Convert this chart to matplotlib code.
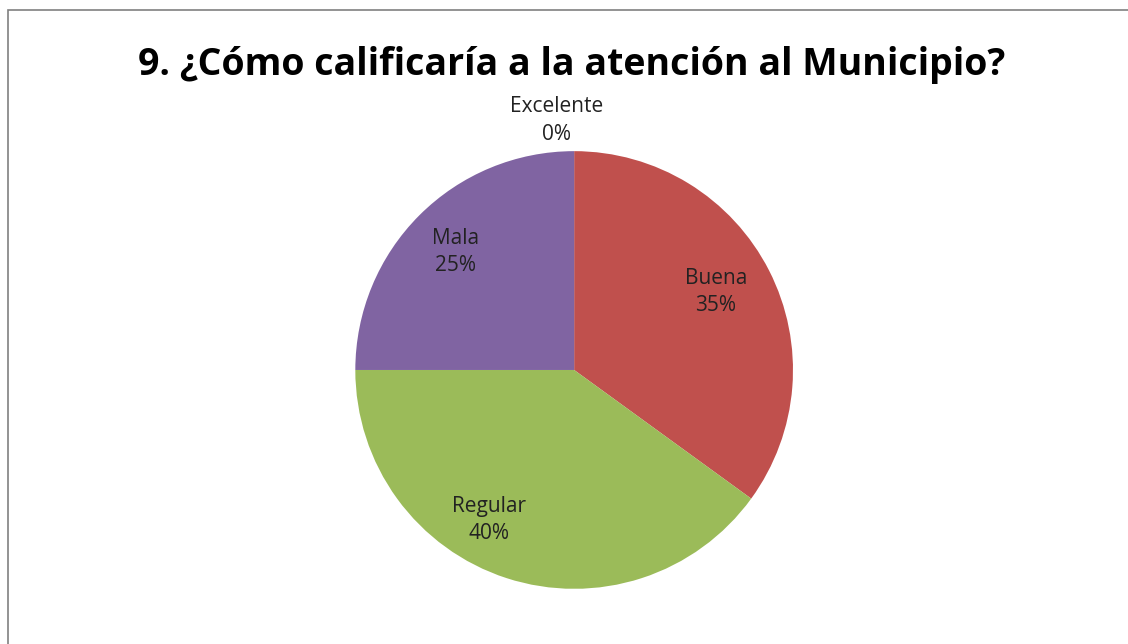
import matplotlib
matplotlib.use("Agg")
import matplotlib.pyplot as plt
from matplotlib.patches import Rectangle

# datos del grafico
categorias = ["Excelente", "Buena", "Regular", "Mala"]
porcentajes = [0, 35, 40, 25]
colores = ["#4F81BD", "#C0504D", "#9BBB59", "#8064A2"]
titulo = "9. ¿Cómo calificaría a la atención al Municipio?"

# posicion de las etiquetas (en unidades del radio)
pos_etiquetas = [(-0.08, 1.14), (0.648, 0.356), (-0.388, -0.685), (-0.543, 0.539)]

fig = plt.figure(figsize=(11.28, 6.44), dpi=100)
fig.patch.set_facecolor("white")

# marco gris arriba e izquierda
fig.patches.append(Rectangle((8 / 1128, -0.1), 1.2, (644 - 10) / 644 + 0.1,
                             transform=fig.transFigure, fill=False,
                             edgecolor="#808080", linewidth=1.2))

fig.text(0.507, 0.899, titulo, ha="center", va="center",
         fontsize=27, fontweight="bold", family="Open Sans", color="black")

ax = fig.add_axes([0.315, 0.0855, 0.388, 0.680])
ax.pie(porcentajes, colors=colores, startangle=90, counterclock=False,
       radius=1, wedgeprops=dict(linewidth=0))
ax.set_xlim(-1, 1)
ax.set_ylim(-1, 1)
ax.set_aspect("equal")
ax.axis("off")

for cat, val, (x, y) in zip(categorias, porcentajes, pos_etiquetas):
    ax.text(x, y, f"{cat}\n{val}%", ha="center", va="center", fontsize=15,
            family="Open Sans", color="#222222", linespacing=1.42)

fig.savefig("out.png", dpi=100)
